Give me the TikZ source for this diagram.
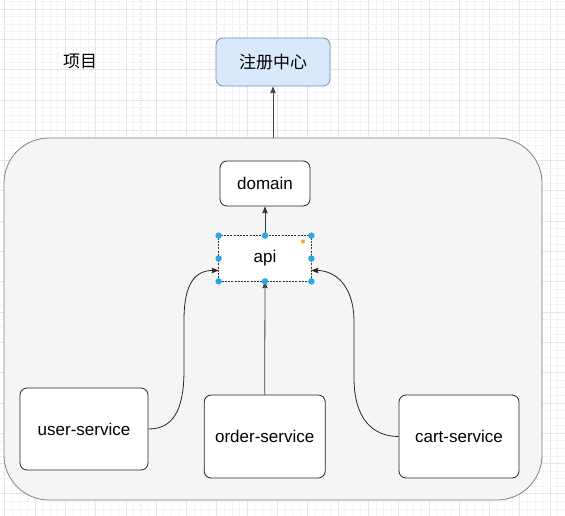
\documentclass[tikz,border=0pt]{standalone}
\usepackage{fontspec}
\setmainfont{Liberation Sans}
\newfontfamily\cjk{Noto Sans CJK SC}
\usetikzlibrary{arrows.meta,calc}
\definecolor{regfill}{HTML}{DAE8FC}
\definecolor{regdraw}{HTML}{6C8EBF}
\definecolor{contfill}{HTML}{F5F5F5}
\definecolor{contdraw}{HTML}{808080}
\definecolor{handle}{HTML}{29A8E0}
\definecolor{orangedot}{HTML}{F5A623}
\definecolor{minorgrid}{HTML}{F4F4F4}
\definecolor{majorgrid}{HTML}{E5E5E5}
\begin{document}
\begin{tikzpicture}[x=1pt,y=-1pt,
  txt/.style={font=\fontsize{17}{20}\selectfont},
  box/.style={draw=black!85, fill=white, rounded corners=7pt, line width=0.8pt, inner sep=0pt, txt},
  arr/.style={-{Stealth[length=7pt,width=5.5pt,inset=1pt]}, line width=0.8pt},
  conn/.style={line width=0.7pt, draw=black!85},
  gridminor/.style={draw=minorgrid, line width=0.6pt},
  gridmajor/.style={draw=majorgrid, line width=0.7pt},
  hdot/.style={fill=handle, draw=none}]
\useasboundingbox (0,0) rectangle (565,516);
\fill[white] (0,0) rectangle (565,516);
% grid
\foreach \k in {0,...,74}{
  \pgfmathsetmacro\xx{4.7+7.575*\k}
  \pgfmathtruncatemacro\m{mod(\k,4)}
  \ifnum\m=0 \draw[gridmajor] (\xx,0) -- (\xx,516); \else \draw[gridminor] (\xx,0) -- (\xx,516); \fi
}
\foreach \k in {0,...,69}{
  \pgfmathsetmacro\yy{1.425+7.575*\k}
  \pgfmathtruncatemacro\m{mod(\k,4)}
  \ifnum\m=1 \draw[gridmajor] (0,\yy) -- (565,\yy); \else \draw[gridminor] (0,\yy) -- (565,\yy); \fi
}
\draw[draw=black!9, dash pattern=on 3pt off 3pt, line width=0.6pt] (140,0) -- (140,516);
% container
\node[draw=contdraw, fill=contfill, rounded corners=45pt, line width=0.8pt,
      minimum width=538pt, minimum height=362pt, inner sep=0pt] (cont) at (273,319) {};
% title
\node[txt] (title) at (80,61) {\cjk 项目};
% boxes
\node[draw=regdraw, fill=regfill, rounded corners=7pt, line width=0.8pt, inner sep=0pt,
      minimum width=114pt, minimum height=48pt, txt] (reg) at (273,62) {\cjk 注册中心};
\node[box, minimum width=90pt, minimum height=45pt] (domain) at (265,183.5) {domain};
\node[box, draw=none, minimum width=92pt, minimum height=45pt] (api) at (265,258.5) {api};
\node[box, minimum width=128pt, minimum height=82pt] (user) at (84,429) {user-service};
\node[box, minimum width=121pt, minimum height=83pt] (order) at (264.7,436.5) {order-service};
\node[box, minimum width=120pt, minimum height=83pt] (cart) at (459,436.5) {cart-service};
% api selection outline
\draw[black!80, line width=0.7pt, dash pattern=on 2pt off 1.2pt] (api.south west) rectangle (api.north east);
% connectors
\coordinate (apiL) at ($(api.west)+(0,12)$);
\coordinate (apiR) at ($(api.east)+(0,12)$);
\draw[arr, draw=black!75] (cont.north) -- (reg.south);
\draw[arr, draw=black!80] (api.north) -- (domain.south);
\draw[arr, draw=black!75] (order.north) -- (api.south);
\draw[conn, arr] (user.east) .. controls (172,429) and (184,412) .. (184,370) -- (184,320)
      .. controls (184,282) and (196,270.5) .. (apiL);
\draw[conn, arr] (cart.west) .. controls (372,436.5) and (354,418) .. (354,378) -- (354,322)
      .. controls (354,284) and (334,270.5) .. (apiR);
% selection handles
\foreach \a in {north west,north,north east,west,east,south west,south,south east}{
  \fill[hdot] (api.\a) circle (3.2pt);
}
\fill[orangedot] (303,241.5) circle (2pt);
\end{tikzpicture}
\end{document}
